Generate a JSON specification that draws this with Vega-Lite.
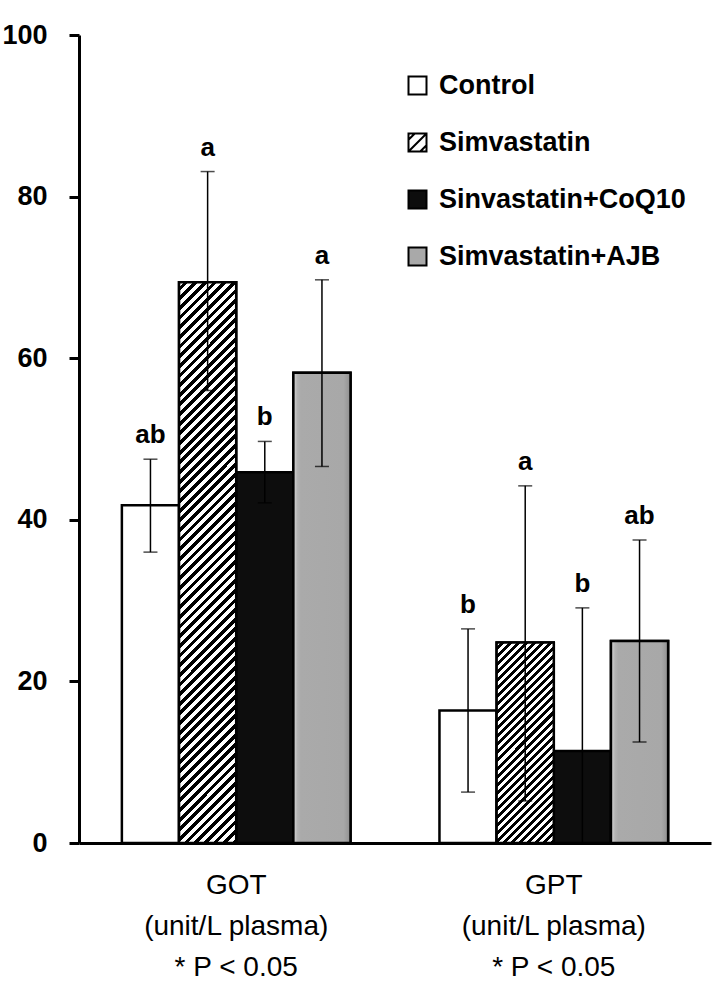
{
  "$schema": "https://vega.github.io/schema/vega-lite/v6.json",
  "autosize": "none",
  "width": 632,
  "height": 808,
  "padding": {"left": 79, "top": 35, "right": 2, "bottom": 153},
  "background": "white",
  "config": {
    "view": {"stroke": null},
    "font": "Liberation Sans",
    "axis": {"labelColor": "black", "domainColor": "black", "tickColor": "black", "grid": false, "labelFont": "Liberation Sans"}
  },
  "data": {"values": [
    {"group": "GOT", "treatment": "Control", "mean": 41.8, "low": 36.0, "high": 47.5, "sig": "ab"},
    {"group": "GOT", "treatment": "Simvastatin", "mean": 69.4, "low": 56.0, "high": 83.1, "sig": "a"},
    {"group": "GOT", "treatment": "Sinvastatin+CoQ10", "mean": 45.9, "low": 42.1, "high": 49.7, "sig": "b"},
    {"group": "GOT", "treatment": "Simvastatin+AJB", "mean": 58.2, "low": 46.6, "high": 69.7, "sig": "a"},
    {"group": "GPT", "treatment": "Control", "mean": 16.4, "low": 6.3, "high": 26.5, "sig": "b"},
    {"group": "GPT", "treatment": "Simvastatin", "mean": 24.8, "low": 5.2, "high": 44.2, "sig": "a"},
    {"group": "GPT", "treatment": "Sinvastatin+CoQ10", "mean": 11.4, "low": 0, "high": 29.1, "sig": "b"},
    {"group": "GPT", "treatment": "Simvastatin+AJB", "mean": 25.0, "low": 12.5, "high": 37.5, "sig": "ab"}
  ]},
  "encoding": {
    "x": {
      "field": "group", "type": "nominal", "sort": ["GOT", "GPT"],
      "scale": {"paddingInner": 0.28, "paddingOuter": 0.135},
      "axis": {
        "title": null, "labelAngle": 0, "ticks": false, "domainWidth": 3,
        "labelFontSize": 28, "labelLineHeight": 41, "labelPadding": 28, "labelBaseline": "top", "labelLimit": 500,
        "labelExpr": "[datum.label, '(unit/L plasma)', '* P < 0.05']", "zindex": 1
      }
    },
    "xOffset": {
      "field": "treatment", "type": "nominal",
      "sort": ["Control", "Simvastatin", "Sinvastatin+CoQ10", "Simvastatin+AJB"],
      "scale": {"paddingInner": 0, "paddingOuter": 0}
    }
  },
  "layer": [
    {
      "mark": {"type": "bar", "stroke": "black", "strokeWidth": 2.5},
      "encoding": {
        "y": {
          "field": "mean", "type": "quantitative", "title": null,
          "scale": {"domain": [0, 100], "nice": false},
          "axis": {"values": [0, 20, 40, 60, 80, 100], "domainWidth": 3, "tickWidth": 3, "tickSize": 10, "labelPadding": 22, "labelFontSize": 27, "labelFontWeight": "bold", "zindex": 1}
        },
        "fill": {
          "field": "treatment", "type": "nominal",
          "sort": ["Control", "Simvastatin", "Sinvastatin+CoQ10", "Simvastatin+AJB"],
          "scale": {
            "domain": ["Control", "Simvastatin", "Sinvastatin+CoQ10", "Simvastatin+AJB"],
            "range": ["#ffffff", "#ffffff", "#0d0d0d", "#a9a9a9"]
          },
          "legend": {
            "title": null, "orient": "none", "legendX": 325, "legendY": 37, "padding": 0,
            "symbolType": "square", "symbolSize": 324, "symbolStrokeColor": "black", "symbolStrokeWidth": 2,
            "labelFontSize": 27, "labelFontWeight": "bold", "labelFont": "Liberation Sans", "labelColor": "black",
            "rowPadding": 29, "labelOffset": 8, "labelLimit": 400,
            "encode": {
              "symbols": {
                "update": {
                  "stroke": {"value": "black"},
                  "strokeWidth": {"value": 2},
                  "shape": {"signal": "datum.value === 'Simvastatin' ? 'M-1,-1H1V1H-1Z M-1,-0.3L-0.3,-1 M-1,1L1,-1 M0.3,1L1,0.3' : 'square'"}
                }
              }
            }
          }
        }
      }
    },
    {
      "transform": [{"filter": "datum.treatment === 'Simvastatin+AJB'"}],
      "mark": {"type": "bar", "stroke": "black", "strokeWidth": 2.5,
        "fill": {"gradient": "linear", "x1": 0, "y1": 0, "x2": 1, "y2": 0, "stops": [
          {"offset": 0, "color": "#dadada"}, {"offset": 0.07, "color": "#b4b4b4"}, {"offset": 0.13, "color": "#aaaaaa"},
          {"offset": 0.88, "color": "#a8a8a8"}, {"offset": 0.95, "color": "#9a9a9a"}, {"offset": 1, "color": "#8c8c8c"}]}},
      "encoding": {"y": {"field": "mean", "type": "quantitative", "title": null}}
    },
    {
      "transform": [{"filter": "datum.group === 'GOT' && datum.treatment === 'Simvastatin'"}],
      "mark": {"type": "bar", "stroke": "black", "strokeWidth": 2.5,
        "fill": {"gradient": "linear", "x1": 0, "y1": 0, "x2": 0.11126, "y2": 1.0907, "stops": [
{"offset":0,"color":"#fff"},
{"offset":0.0078125,"color":"#fff"},{"offset":0.0078125,"color":"#000"},
{"offset":0.015625,"color":"#000"},{"offset":0.015625,"color":"#fff"},
{"offset":0.0234375,"color":"#fff"},{"offset":0.0234375,"color":"#000"},
{"offset":0.03125,"color":"#000"},{"offset":0.03125,"color":"#fff"},
{"offset":0.0390625,"color":"#fff"},{"offset":0.0390625,"color":"#000"},
{"offset":0.046875,"color":"#000"},{"offset":0.046875,"color":"#fff"},
{"offset":0.0546875,"color":"#fff"},{"offset":0.0546875,"color":"#000"},
{"offset":0.0625,"color":"#000"},{"offset":0.0625,"color":"#fff"},
{"offset":0.0703125,"color":"#fff"},{"offset":0.0703125,"color":"#000"},
{"offset":0.078125,"color":"#000"},{"offset":0.078125,"color":"#fff"},
{"offset":0.0859375,"color":"#fff"},{"offset":0.0859375,"color":"#000"},
{"offset":0.09375,"color":"#000"},{"offset":0.09375,"color":"#fff"},
{"offset":0.1015625,"color":"#fff"},{"offset":0.1015625,"color":"#000"},
{"offset":0.109375,"color":"#000"},{"offset":0.109375,"color":"#fff"},
{"offset":0.1171875,"color":"#fff"},{"offset":0.1171875,"color":"#000"},
{"offset":0.125,"color":"#000"},{"offset":0.125,"color":"#fff"},
{"offset":0.1328125,"color":"#fff"},{"offset":0.1328125,"color":"#000"},
{"offset":0.140625,"color":"#000"},{"offset":0.140625,"color":"#fff"},
{"offset":0.1484375,"color":"#fff"},{"offset":0.1484375,"color":"#000"},
{"offset":0.15625,"color":"#000"},{"offset":0.15625,"color":"#fff"},
{"offset":0.1640625,"color":"#fff"},{"offset":0.1640625,"color":"#000"},
{"offset":0.171875,"color":"#000"},{"offset":0.171875,"color":"#fff"},
{"offset":0.1796875,"color":"#fff"},{"offset":0.1796875,"color":"#000"},
{"offset":0.1875,"color":"#000"},{"offset":0.1875,"color":"#fff"},
{"offset":0.1953125,"color":"#fff"},{"offset":0.1953125,"color":"#000"},
{"offset":0.203125,"color":"#000"},{"offset":0.203125,"color":"#fff"},
{"offset":0.2109375,"color":"#fff"},{"offset":0.2109375,"color":"#000"},
{"offset":0.21875,"color":"#000"},{"offset":0.21875,"color":"#fff"},
{"offset":0.2265625,"color":"#fff"},{"offset":0.2265625,"color":"#000"},
{"offset":0.234375,"color":"#000"},{"offset":0.234375,"color":"#fff"},
{"offset":0.2421875,"color":"#fff"},{"offset":0.2421875,"color":"#000"},
{"offset":0.25,"color":"#000"},{"offset":0.25,"color":"#fff"},
{"offset":0.2578125,"color":"#fff"},{"offset":0.2578125,"color":"#000"},
{"offset":0.265625,"color":"#000"},{"offset":0.265625,"color":"#fff"},
{"offset":0.2734375,"color":"#fff"},{"offset":0.2734375,"color":"#000"},
{"offset":0.28125,"color":"#000"},{"offset":0.28125,"color":"#fff"},
{"offset":0.2890625,"color":"#fff"},{"offset":0.2890625,"color":"#000"},
{"offset":0.296875,"color":"#000"},{"offset":0.296875,"color":"#fff"},
{"offset":0.3046875,"color":"#fff"},{"offset":0.3046875,"color":"#000"},
{"offset":0.3125,"color":"#000"},{"offset":0.3125,"color":"#fff"},
{"offset":0.3203125,"color":"#fff"},{"offset":0.3203125,"color":"#000"},
{"offset":0.328125,"color":"#000"},{"offset":0.328125,"color":"#fff"},
{"offset":0.3359375,"color":"#fff"},{"offset":0.3359375,"color":"#000"},
{"offset":0.34375,"color":"#000"},{"offset":0.34375,"color":"#fff"},
{"offset":0.3515625,"color":"#fff"},{"offset":0.3515625,"color":"#000"},
{"offset":0.359375,"color":"#000"},{"offset":0.359375,"color":"#fff"},
{"offset":0.3671875,"color":"#fff"},{"offset":0.3671875,"color":"#000"},
{"offset":0.375,"color":"#000"},{"offset":0.375,"color":"#fff"},
{"offset":0.3828125,"color":"#fff"},{"offset":0.3828125,"color":"#000"},
{"offset":0.390625,"color":"#000"},{"offset":0.390625,"color":"#fff"},
{"offset":0.3984375,"color":"#fff"},{"offset":0.3984375,"color":"#000"},
{"offset":0.40625,"color":"#000"},{"offset":0.40625,"color":"#fff"},
{"offset":0.4140625,"color":"#fff"},{"offset":0.4140625,"color":"#000"},
{"offset":0.421875,"color":"#000"},{"offset":0.421875,"color":"#fff"},
{"offset":0.4296875,"color":"#fff"},{"offset":0.4296875,"color":"#000"},
{"offset":0.4375,"color":"#000"},{"offset":0.4375,"color":"#fff"},
{"offset":0.4453125,"color":"#fff"},{"offset":0.4453125,"color":"#000"},
{"offset":0.453125,"color":"#000"},{"offset":0.453125,"color":"#fff"},
{"offset":0.4609375,"color":"#fff"},{"offset":0.4609375,"color":"#000"},
{"offset":0.46875,"color":"#000"},{"offset":0.46875,"color":"#fff"},
{"offset":0.4765625,"color":"#fff"},{"offset":0.4765625,"color":"#000"},
{"offset":0.484375,"color":"#000"},{"offset":0.484375,"color":"#fff"},
{"offset":0.4921875,"color":"#fff"},{"offset":0.4921875,"color":"#000"},
{"offset":0.5,"color":"#000"},{"offset":0.5,"color":"#fff"},
{"offset":0.5078125,"color":"#fff"},{"offset":0.5078125,"color":"#000"},
{"offset":0.515625,"color":"#000"},{"offset":0.515625,"color":"#fff"},
{"offset":0.5234375,"color":"#fff"},{"offset":0.5234375,"color":"#000"},
{"offset":0.53125,"color":"#000"},{"offset":0.53125,"color":"#fff"},
{"offset":0.5390625,"color":"#fff"},{"offset":0.5390625,"color":"#000"},
{"offset":0.546875,"color":"#000"},{"offset":0.546875,"color":"#fff"},
{"offset":0.5546875,"color":"#fff"},{"offset":0.5546875,"color":"#000"},
{"offset":0.5625,"color":"#000"},{"offset":0.5625,"color":"#fff"},
{"offset":0.5703125,"color":"#fff"},{"offset":0.5703125,"color":"#000"},
{"offset":0.578125,"color":"#000"},{"offset":0.578125,"color":"#fff"},
{"offset":0.5859375,"color":"#fff"},{"offset":0.5859375,"color":"#000"},
{"offset":0.59375,"color":"#000"},{"offset":0.59375,"color":"#fff"},
{"offset":0.6015625,"color":"#fff"},{"offset":0.6015625,"color":"#000"},
{"offset":0.609375,"color":"#000"},{"offset":0.609375,"color":"#fff"},
{"offset":0.6171875,"color":"#fff"},{"offset":0.6171875,"color":"#000"},
{"offset":0.625,"color":"#000"},{"offset":0.625,"color":"#fff"},
{"offset":0.6328125,"color":"#fff"},{"offset":0.6328125,"color":"#000"},
{"offset":0.640625,"color":"#000"},{"offset":0.640625,"color":"#fff"},
{"offset":0.6484375,"color":"#fff"},{"offset":0.6484375,"color":"#000"},
{"offset":0.65625,"color":"#000"},{"offset":0.65625,"color":"#fff"},
{"offset":0.6640625,"color":"#fff"},{"offset":0.6640625,"color":"#000"},
{"offset":0.671875,"color":"#000"},{"offset":0.671875,"color":"#fff"},
{"offset":0.6796875,"color":"#fff"},{"offset":0.6796875,"color":"#000"},
{"offset":0.6875,"color":"#000"},{"offset":0.6875,"color":"#fff"},
{"offset":0.6953125,"color":"#fff"},{"offset":0.6953125,"color":"#000"},
{"offset":0.703125,"color":"#000"},{"offset":0.703125,"color":"#fff"},
{"offset":0.7109375,"color":"#fff"},{"offset":0.7109375,"color":"#000"},
{"offset":0.71875,"color":"#000"},{"offset":0.71875,"color":"#fff"},
{"offset":0.7265625,"color":"#fff"},{"offset":0.7265625,"color":"#000"},
{"offset":0.734375,"color":"#000"},{"offset":0.734375,"color":"#fff"},
{"offset":0.7421875,"color":"#fff"},{"offset":0.7421875,"color":"#000"},
{"offset":0.75,"color":"#000"},{"offset":0.75,"color":"#fff"},
{"offset":0.7578125,"color":"#fff"},{"offset":0.7578125,"color":"#000"},
{"offset":0.765625,"color":"#000"},{"offset":0.765625,"color":"#fff"},
{"offset":0.7734375,"color":"#fff"},{"offset":0.7734375,"color":"#000"},
{"offset":0.78125,"color":"#000"},{"offset":0.78125,"color":"#fff"},
{"offset":0.7890625,"color":"#fff"},{"offset":0.7890625,"color":"#000"},
{"offset":0.796875,"color":"#000"},{"offset":0.796875,"color":"#fff"},
{"offset":0.8046875,"color":"#fff"},{"offset":0.8046875,"color":"#000"},
{"offset":0.8125,"color":"#000"},{"offset":0.8125,"color":"#fff"},
{"offset":0.8203125,"color":"#fff"},{"offset":0.8203125,"color":"#000"},
{"offset":0.828125,"color":"#000"},{"offset":0.828125,"color":"#fff"},
{"offset":0.8359375,"color":"#fff"},{"offset":0.8359375,"color":"#000"},
{"offset":0.84375,"color":"#000"},{"offset":0.84375,"color":"#fff"},
{"offset":0.8515625,"color":"#fff"},{"offset":0.8515625,"color":"#000"},
{"offset":0.859375,"color":"#000"},{"offset":0.859375,"color":"#fff"},
{"offset":0.8671875,"color":"#fff"},{"offset":0.8671875,"color":"#000"},
{"offset":0.875,"color":"#000"},{"offset":0.875,"color":"#fff"},
{"offset":0.8828125,"color":"#fff"},{"offset":0.8828125,"color":"#000"},
{"offset":0.890625,"color":"#000"},{"offset":0.890625,"color":"#fff"},
{"offset":0.8984375,"color":"#fff"},{"offset":0.8984375,"color":"#000"},
{"offset":0.90625,"color":"#000"},{"offset":0.90625,"color":"#fff"},
{"offset":0.9140625,"color":"#fff"},{"offset":0.9140625,"color":"#000"},
{"offset":0.921875,"color":"#000"},{"offset":0.921875,"color":"#fff"},
{"offset":0.9296875,"color":"#fff"},{"offset":0.9296875,"color":"#000"},
{"offset":0.9375,"color":"#000"},{"offset":0.9375,"color":"#fff"},
{"offset":0.9453125,"color":"#fff"},{"offset":0.9453125,"color":"#000"},
{"offset":0.953125,"color":"#000"},{"offset":0.953125,"color":"#fff"},
{"offset":0.9609375,"color":"#fff"},{"offset":0.9609375,"color":"#000"},
{"offset":0.96875,"color":"#000"},{"offset":0.96875,"color":"#fff"},
{"offset":0.9765625,"color":"#fff"},{"offset":0.9765625,"color":"#000"},
{"offset":0.984375,"color":"#000"},{"offset":0.984375,"color":"#fff"},
{"offset":0.9921875,"color":"#fff"},{"offset":0.9921875,"color":"#000"},
{"offset":1,"color":"#000"}
        ]}},
      "encoding": {"y": {"field": "mean", "type": "quantitative", "title": null}}
    },
    {
      "transform": [{"filter": "datum.group === 'GPT' && datum.treatment === 'Simvastatin'"}],
      "mark": {"type": "bar", "stroke": "black", "strokeWidth": 2.5,
        "fill": {"gradient": "linear", "x1": 0, "y1": 0, "x2": 0.3393, "y2": 1.1886, "stops": [
{"offset":0,"color":"#fff"},
{"offset":0.015625,"color":"#fff"},{"offset":0.015625,"color":"#000"},
{"offset":0.03125,"color":"#000"},{"offset":0.03125,"color":"#fff"},
{"offset":0.046875,"color":"#fff"},{"offset":0.046875,"color":"#000"},
{"offset":0.0625,"color":"#000"},{"offset":0.0625,"color":"#fff"},
{"offset":0.078125,"color":"#fff"},{"offset":0.078125,"color":"#000"},
{"offset":0.09375,"color":"#000"},{"offset":0.09375,"color":"#fff"},
{"offset":0.109375,"color":"#fff"},{"offset":0.109375,"color":"#000"},
{"offset":0.125,"color":"#000"},{"offset":0.125,"color":"#fff"},
{"offset":0.140625,"color":"#fff"},{"offset":0.140625,"color":"#000"},
{"offset":0.15625,"color":"#000"},{"offset":0.15625,"color":"#fff"},
{"offset":0.171875,"color":"#fff"},{"offset":0.171875,"color":"#000"},
{"offset":0.1875,"color":"#000"},{"offset":0.1875,"color":"#fff"},
{"offset":0.203125,"color":"#fff"},{"offset":0.203125,"color":"#000"},
{"offset":0.21875,"color":"#000"},{"offset":0.21875,"color":"#fff"},
{"offset":0.234375,"color":"#fff"},{"offset":0.234375,"color":"#000"},
{"offset":0.25,"color":"#000"},{"offset":0.25,"color":"#fff"},
{"offset":0.265625,"color":"#fff"},{"offset":0.265625,"color":"#000"},
{"offset":0.28125,"color":"#000"},{"offset":0.28125,"color":"#fff"},
{"offset":0.296875,"color":"#fff"},{"offset":0.296875,"color":"#000"},
{"offset":0.3125,"color":"#000"},{"offset":0.3125,"color":"#fff"},
{"offset":0.328125,"color":"#fff"},{"offset":0.328125,"color":"#000"},
{"offset":0.34375,"color":"#000"},{"offset":0.34375,"color":"#fff"},
{"offset":0.359375,"color":"#fff"},{"offset":0.359375,"color":"#000"},
{"offset":0.375,"color":"#000"},{"offset":0.375,"color":"#fff"},
{"offset":0.390625,"color":"#fff"},{"offset":0.390625,"color":"#000"},
{"offset":0.40625,"color":"#000"},{"offset":0.40625,"color":"#fff"},
{"offset":0.421875,"color":"#fff"},{"offset":0.421875,"color":"#000"},
{"offset":0.4375,"color":"#000"},{"offset":0.4375,"color":"#fff"},
{"offset":0.453125,"color":"#fff"},{"offset":0.453125,"color":"#000"},
{"offset":0.46875,"color":"#000"},{"offset":0.46875,"color":"#fff"},
{"offset":0.484375,"color":"#fff"},{"offset":0.484375,"color":"#000"},
{"offset":0.5,"color":"#000"},{"offset":0.5,"color":"#fff"},
{"offset":0.515625,"color":"#fff"},{"offset":0.515625,"color":"#000"},
{"offset":0.53125,"color":"#000"},{"offset":0.53125,"color":"#fff"},
{"offset":0.546875,"color":"#fff"},{"offset":0.546875,"color":"#000"},
{"offset":0.5625,"color":"#000"},{"offset":0.5625,"color":"#fff"},
{"offset":0.578125,"color":"#fff"},{"offset":0.578125,"color":"#000"},
{"offset":0.59375,"color":"#000"},{"offset":0.59375,"color":"#fff"},
{"offset":0.609375,"color":"#fff"},{"offset":0.609375,"color":"#000"},
{"offset":0.625,"color":"#000"},{"offset":0.625,"color":"#fff"},
{"offset":0.640625,"color":"#fff"},{"offset":0.640625,"color":"#000"},
{"offset":0.65625,"color":"#000"},{"offset":0.65625,"color":"#fff"},
{"offset":0.671875,"color":"#fff"},{"offset":0.671875,"color":"#000"},
{"offset":0.6875,"color":"#000"},{"offset":0.6875,"color":"#fff"},
{"offset":0.703125,"color":"#fff"},{"offset":0.703125,"color":"#000"},
{"offset":0.71875,"color":"#000"},{"offset":0.71875,"color":"#fff"},
{"offset":0.734375,"color":"#fff"},{"offset":0.734375,"color":"#000"},
{"offset":0.75,"color":"#000"},{"offset":0.75,"color":"#fff"},
{"offset":0.765625,"color":"#fff"},{"offset":0.765625,"color":"#000"},
{"offset":0.78125,"color":"#000"},{"offset":0.78125,"color":"#fff"},
{"offset":0.796875,"color":"#fff"},{"offset":0.796875,"color":"#000"},
{"offset":0.8125,"color":"#000"},{"offset":0.8125,"color":"#fff"},
{"offset":0.828125,"color":"#fff"},{"offset":0.828125,"color":"#000"},
{"offset":0.84375,"color":"#000"},{"offset":0.84375,"color":"#fff"},
{"offset":0.859375,"color":"#fff"},{"offset":0.859375,"color":"#000"},
{"offset":0.875,"color":"#000"},{"offset":0.875,"color":"#fff"},
{"offset":0.890625,"color":"#fff"},{"offset":0.890625,"color":"#000"},
{"offset":0.90625,"color":"#000"},{"offset":0.90625,"color":"#fff"},
{"offset":0.921875,"color":"#fff"},{"offset":0.921875,"color":"#000"},
{"offset":0.9375,"color":"#000"},{"offset":0.9375,"color":"#fff"},
{"offset":0.953125,"color":"#fff"},{"offset":0.953125,"color":"#000"},
{"offset":0.96875,"color":"#000"},{"offset":0.96875,"color":"#fff"},
{"offset":0.984375,"color":"#fff"},{"offset":0.984375,"color":"#000"},
{"offset":1,"color":"#000"}
        ]}},
      "encoding": {"y": {"field": "mean", "type": "quantitative", "title": null}}
    },
    {
      "mark": {"type": "rule", "color": "black", "strokeWidth": 1.5},
      "encoding": {
        "y": {"field": "low", "type": "quantitative", "title": null},
        "y2": {"field": "high"}
      }
    },
    {
      "mark": {"type": "tick", "orient": "horizontal", "color": "black", "size": 14, "thickness": 1.5},
      "encoding": {"y": {"field": "low", "type": "quantitative", "title": null}}
    },
    {
      "mark": {"type": "tick", "orient": "horizontal", "color": "black", "size": 14, "thickness": 1.5},
      "encoding": {"y": {"field": "high", "type": "quantitative", "title": null}}
    },
    {
      "mark": {"type": "text", "fontSize": 26, "fontWeight": "bold", "font": "Liberation Sans", "color": "black", "baseline": "alphabetic", "dy": -16},
      "encoding": {
        "y": {"field": "high", "type": "quantitative", "title": null},
        "text": {"field": "sig"}
      }
    }
  ]
}
